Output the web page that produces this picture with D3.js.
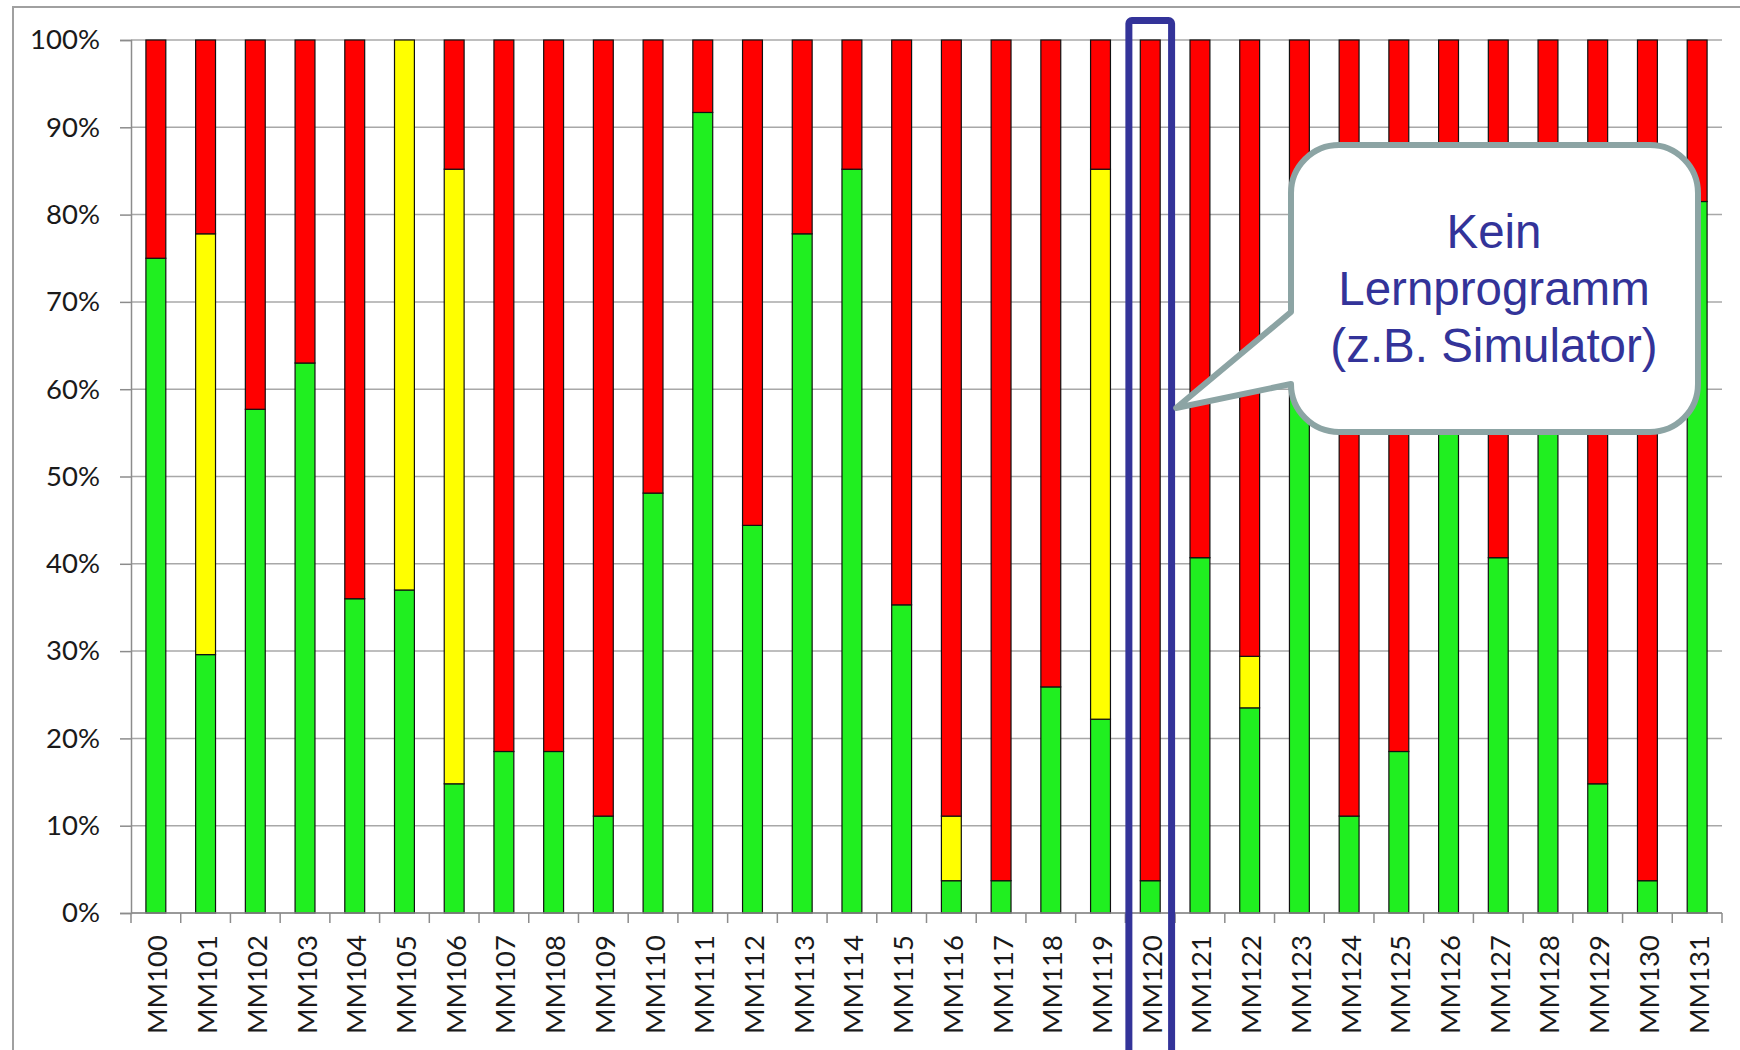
<!DOCTYPE html>
<html>
<head>
<meta charset="utf-8">
<script src="https://cdn.jsdelivr.net/npm/d3@7"></script>
<style>
  html, body { margin: 0; padding: 0; background: #fff; overflow: hidden; }
  svg { display: block; }
</style>
</head>
<body>
<svg id="chart" width="1740" height="1050"></svg>
<script>
const categories = ["MM100","MM101","MM102","MM103","MM104","MM105","MM106","MM107","MM108","MM109",
  "MM110","MM111","MM112","MM113","MM114","MM115","MM116","MM117","MM118","MM119",
  "MM120","MM121","MM122","MM123","MM124","MM125","MM126","MM127","MM128","MM129","MM130","MM131"];
const greenValues  = [75.0, 29.6, 57.7, 63.0, 36.0, 37.0, 14.8, 18.5, 18.5, 11.1,
  48.1, 91.7, 44.4, 77.8, 85.2, 35.3, 3.7, 3.7, 25.9, 22.2,
  3.7, 40.7, 23.5, 66.7, 11.1, 18.5, 70.4, 40.7, 59.3, 14.8, 3.7, 81.5];
const yellowValues = [0, 48.2, 0, 0, 0, 63.0, 70.4, 0, 0, 0,
  0, 0, 0, 0, 0, 0, 7.4, 0, 0, 63.0,
  0, 0, 5.9, 0, 0, 0, 0, 0, 0, 0, 0, 0];
const redValues    = [25.0, 22.2, 42.3, 37.0, 64.0, 0, 14.8, 81.5, 81.5, 88.9,
  51.9, 8.3, 55.6, 22.2, 14.8, 64.7, 88.9, 96.3, 74.1, 14.8,
  96.3, 59.3, 70.6, 33.3, 88.9, 81.5, 29.6, 59.3, 40.7, 85.2, 96.3, 18.5];
const seriesKeys = ["green", "yellow", "red"];
const seriesColors = { green: "#20ef20", yellow: "#ffff00", red: "#ff0000" };
const yTicks = [0,10,20,30,40,50,60,70,80,90,100];
const highlighted = "MM120";
const calloutLines = ["Kein", "Lernprogramm", "(z.B. Simulator)"];

(function () {
const rows = categories.map((c, i) => ({ cat: c, green: greenValues[i], yellow: yellowValues[i], red: redValues[i] }));

const svg = d3.select("#chart");
const mLeft = 131, mRight = 1722, mTop = 40, mBottom = 913;
const font = "Lato, 'Open Sans', sans-serif";

const x = d3.scaleBand().domain(categories).range([mLeft, mRight]).paddingInner(0.6).paddingOuter(0.3);
const y = d3.scaleLinear().domain([0, 100]).range([mBottom, mTop]);
const step = x.step();
const slotLeft = c => x(c) - x.paddingOuter() * step;

// outer frame
svg.append("path").attr("d", `M13,1050 V7 H1740`).attr("fill", "none").attr("stroke", "#a0a0a0").attr("stroke-width", 2);

// gridlines
svg.append("g").selectAll("line").data(yTicks).join("line")
  .attr("x1", mLeft).attr("x2", mRight)
  .attr("y1", d => y(d)).attr("y2", d => y(d))
  .attr("stroke", "#a8a8a8").attr("stroke-width", 1.5);

// y axis
const yAxis = svg.append("g").attr("transform", `translate(${mLeft},0)`)
  .call(d3.axisLeft(y).tickValues(yTicks).tickFormat(d => d + "%").tickSize(11).tickPadding(20));
yAxis.select(".domain").attr("stroke", "#8c8c8c").attr("stroke-width", 1.5);
yAxis.selectAll(".tick line").attr("stroke", "#8c8c8c").attr("stroke-width", 1.5);
yAxis.selectAll("text").attr("font-family", font).attr("font-size", 27.5).attr("fill", "#1a1a1a");

// stacked bars
const stack = d3.stack().keys(seriesKeys)(rows);
svg.append("g").selectAll("g").data(stack).join("g")
  .attr("fill", d => seriesColors[d.key])
  .selectAll("rect").data(d => d.filter(p => p[1] - p[0] > 0)).join("rect")
  .attr("x", d => x(d.data.cat))
  .attr("width", x.bandwidth())
  .attr("y", d => y(d[1]))
  .attr("height", d => y(d[0]) - y(d[1]))
  .attr("stroke", "#111").attr("stroke-width", 1.2);

// x axis line + ticks at category boundaries
const xg = svg.append("g");
xg.append("line").attr("x1", mLeft).attr("x2", mRight).attr("y1", mBottom).attr("y2", mBottom)
  .attr("stroke", "#8c8c8c").attr("stroke-width", 1.5);
const boundaries = categories.map(c => slotLeft(c)).concat([mRight]);
xg.selectAll("line.t").data(boundaries).join("line").attr("class", "t")
  .attr("x1", d => d).attr("x2", d => d).attr("y1", mBottom).attr("y2", mBottom + 10)
  .attr("stroke", "#8c8c8c").attr("stroke-width", 1.5);
xg.selectAll("text").data(categories).join("text")
  .attr("transform", d => `translate(${x(d) + x.bandwidth() / 2 + 1},${mBottom + 22}) rotate(-90)`)
  .attr("text-anchor", "end").attr("dominant-baseline", "central")
  .attr("font-family", font).attr("font-size", 27.5).attr("fill", "#1a1a1a")
  .text(d => d);

// highlight rectangle around MM120 (runs off the bottom edge)
const hx = slotLeft(highlighted);
svg.append("rect").attr("x", hx + 3.5).attr("y", 20.5).attr("width", step - 7).attr("height", 1100)
  .attr("rx", 3).attr("fill", "none").attr("stroke", "#333399").attr("stroke-width", 7);

// callout
const cx0 = 1291, cy0 = 145, cx1 = 1698, cy1 = 432, r = 48;
const tipX = hx + step + 1, tipY = 408;
const path = `M${cx0 + r},${cy0} H${cx1 - r} A${r},${r} 0 0 1 ${cx1},${cy0 + r} V${cy1 - r}
  A${r},${r} 0 0 1 ${cx1 - r},${cy1} H${cx0 + r} A${r},${r} 0 0 1 ${cx0},${cy1 - r}
  L${tipX},${tipY} L${cx0},${312} V${cy0 + r} A${r},${r} 0 0 1 ${cx0 + r},${cy0} Z`;
svg.append("path").attr("d", path).attr("fill", "#fff").attr("stroke", "#8ca4a4").attr("stroke-width", 6).attr("stroke-linejoin", "round");
svg.append("g").selectAll("text").data(calloutLines).join("text")
  .attr("x", 1494).attr("y", (d, i) => 248 + i * 57)
  .attr("text-anchor", "middle")
  .attr("font-family", "'Liberation Sans', Arial, sans-serif").attr("font-size", 47.5)
  .attr("fill", "#333399")
  .text(d => d);
})();
</script>
</body>
</html>
